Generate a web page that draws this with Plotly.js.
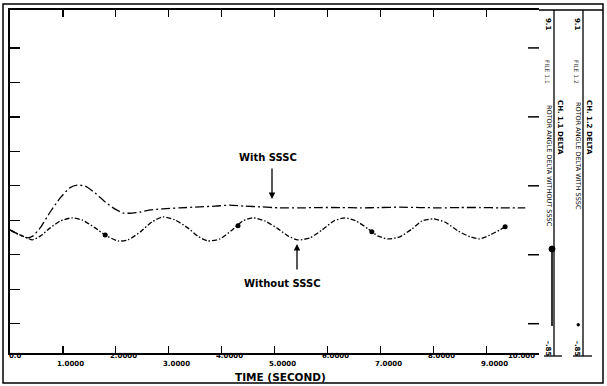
<!DOCTYPE html>
<html>
<head>
<meta charset="utf-8">
<script src="https://cdn.plot.ly/plotly-3.0.1.min.js"></script>
<style>
  html, body { margin: 0; padding: 0; background: #ffffff; }
  #chart { width: 607px; height: 386px; }
</style>
</head>
<body>
<div id="chart"></div>
<script>
// Rotor angle response after the disturbance, with and without the SSSC
const timeWith = [0.00, 0.15, 0.32, 0.43, 0.57, 0.76, 0.95, 1.13, 1.27, 1.42, 1.61, 1.80, 1.98, 2.14,
  2.31, 2.46, 2.65, 2.89, 3.21, 3.59, 3.88, 4.16, 4.44, 4.73, 5.10, 5.48, 5.86, 6.24, 6.62, 6.99,
  7.37, 7.75, 8.13, 8.51, 8.89, 9.26, 9.74];
const angleWith = [2.72, 2.60, 2.49, 2.54, 2.78, 3.24, 3.65, 3.94, 4.02, 3.99, 3.79, 3.53, 3.33, 3.21,
  3.21, 3.24, 3.30, 3.33, 3.36, 3.39, 3.41, 3.44, 3.41, 3.39, 3.36, 3.36, 3.37, 3.37, 3.36, 3.37,
  3.38, 3.37, 3.36, 3.37, 3.37, 3.36, 3.36];

const timeWithout = [0.00, 0.15, 0.32, 0.42, 0.57, 0.76, 0.95, 1.17, 1.36, 1.61, 1.80, 2.04, 2.23,
  2.46, 2.68, 2.89, 3.12, 3.36, 3.55, 3.74, 3.97, 4.20, 4.40, 4.59, 4.82, 5.07, 5.26, 5.44, 5.67,
  5.90, 6.12, 6.33, 6.54, 6.77, 6.96, 7.15, 7.37, 7.60, 7.79, 8.00, 8.22, 8.47, 8.70, 8.88, 9.07,
  9.26, 9.36];
const angleWithout = [2.72, 2.60, 2.49, 2.43, 2.54, 2.78, 2.98, 3.07, 3.01, 2.78, 2.57, 2.40, 2.43,
  2.66, 2.95, 3.10, 3.01, 2.78, 2.54, 2.40, 2.46, 2.72, 2.98, 3.07, 2.98, 2.75, 2.54, 2.43, 2.49,
  2.72, 2.98, 3.07, 2.98, 2.75, 2.54, 2.46, 2.52, 2.75, 2.98, 3.04, 2.95, 2.69, 2.52, 2.46, 2.57,
  2.72, 2.81];

// curve identification symbols placed along the "without" curve
const symbolTime = [1.80, 4.31, 6.84, 9.36];
const symbolAngle = [2.57, 2.84, 2.67, 2.81];

const xTickVals = [0, 1, 2, 3, 4, 5, 6, 7, 8, 9, 10];
const xTickLabels = ["0.0", "1.0000", "2.0000", "3.0000", "4.0000", "5.0000",
  "6.0000", "7.0000", "8.0000", "9.0000", "10.000"];
const yTickVals = [0, 1, 2, 3, 4, 5, 6, 7, 8];
const rightTickVals = [0, 2, 4, 6, 8];
const yRange = [-0.85, 9.1];

const scaleTop = "9.1";
const scaleBottom = "-.85";

// layout geometry (pixels of the 607x386 page)
const M = { l: 10, r: 68, t: 10, b: 33 };
const W = 607, H = 386;
const PW = W - M.l - M.r, PH = H - M.t - M.b;
const PX = px => (px - M.l) / PW;
const PY = py => (H - M.b - py) / PH;
const pxToTime = px => (px - M.l) / PW * 10;
const pyToAngle = py => yRange[0] + (H - M.b - py) / PH * (yRange[1] - yRange[0]);

const FONT = "DejaVu Sans";
const ink = "#000000";

const traces = [
  {
    x: timeWith, y: angleWith, type: "scatter", mode: "lines", name: "With SSSC",
    line: { color: ink, width: 1.3, dash: "9px,3px,2px,3px", shape: "spline", smoothing: 0.6 },
    hoverinfo: "skip"
  },
  {
    x: timeWithout, y: angleWithout, type: "scatter", mode: "lines", name: "Without SSSC",
    line: { color: ink, width: 1.3, dash: "5px,2px,1.5px,2px", shape: "spline", smoothing: 0.6 },
    hoverinfo: "skip"
  },
  {
    x: symbolTime, y: symbolAngle, type: "scatter", mode: "markers", name: "symbols",
    marker: { color: ink, size: 5, symbol: "circle" }, hoverinfo: "skip"
  }
];

const annotations = [];

// staggered time labels under the axis
xTickVals.forEach((v, i) => {
  const a = {
    x: v, xref: "x", y: PY(i % 2 === 0 ? 356.5 : 364), yref: "paper",
    text: xTickLabels[i], showarrow: false, yanchor: "middle",
    xanchor: "center", xshift: 8,
    font: { family: FONT, size: 7, color: ink, weight: "bold" }
  };
  if (i === 0) { a.xanchor = "left"; a.xshift = -3; }
  if (i === xTickVals.length - 1) { a.xanchor = "right"; a.xshift = -2; }
  annotations.push(a);
});

annotations.push({
  x: PX(280), xref: "paper", y: PY(376.5), yref: "paper", text: "TIME (SECOND)",
  showarrow: false, xanchor: "center", yanchor: "middle",
  font: { family: FONT, size: 10.5, color: ink, weight: "bold" }
});

// curve callouts
annotations.push({
  x: PX(268), xref: "paper", y: PY(157), yref: "paper", text: "With SSSC",
  showarrow: false, xanchor: "center", yanchor: "middle",
  font: { family: FONT, size: 10, color: ink, weight: "bold" }
});
annotations.push({
  x: pxToTime(272), xref: "x", y: pyToAngle(199), yref: "y",
  ax: 0, ay: -32, text: "", showarrow: true, arrowhead: 2, arrowsize: 1, arrowwidth: 1.3, arrowcolor: ink
});
annotations.push({
  x: PX(282), xref: "paper", y: PY(283), yref: "paper", text: "Without SSSC",
  showarrow: false, xanchor: "center", yanchor: "middle",
  font: { family: FONT, size: 10, color: ink, weight: "bold" }
});
annotations.push({
  x: pxToTime(297), xref: "x", y: pyToAngle(244), yref: "y",
  ax: 0, ay: 27, text: "", showarrow: true, arrowhead: 2, arrowsize: 1, arrowwidth: 1.3, arrowcolor: ink
});

// vertical scale columns on the right
function colText(px, py, text, size, bold, color) {
  annotations.push({
    x: PX(px), xref: "paper", y: PY(py), yref: "paper", text: text, textangle: 90,
    showarrow: false, xanchor: "center", yanchor: "middle",
    font: { family: FONT, size: size, color: color || ink, weight: bold ? "bold" : "normal" }
  });
}
colText(548, 24, scaleTop, 7, true);
colText(548, 72, "FILE 1.1", 6, false, "#444444");
colText(549, 166, "ROTOR ANGLE DELTA WITHOUT SSSC", 6.5, false);
colText(560, 127, "CH. 1.1 DELTA", 7, true);
colText(548, 348, scaleBottom, 7, true);

colText(577, 24, scaleTop, 7, true);
colText(577, 72, "FILE 1.2", 6, false, "#444444");
colText(578, 156, "ROTOR ANGLE DELTA WITH SSSC", 6.5, false);
colText(589, 127, "CH. 1.2 DELTA", 7, true);
colText(577, 348, scaleBottom, 7, true);

const line = (x0, y0, x1, y1, w) => ({
  type: "line", xref: "paper", yref: "paper",
  x0: PX(x0), y0: PY(y0), x1: PX(x1), y1: PY(y1),
  line: { color: ink, width: w }
});

const shapes = [
  // outer frame
  { type: "rect", xref: "paper", yref: "paper", x0: PX(3), x1: PX(603), y0: PY(383), y1: PY(4),
    line: { color: ink, width: 1.5 }, fillcolor: "rgba(0,0,0,0)" },
  // top rule carried over the scale columns
  line(539, 10, 603, 10, 1.5),
  // scale columns
  line(554, 10, 554, 356, 1.3),
  line(583, 10, 583, 356, 1.3),
  line(544, 356, 562, 356, 1.3),
  line(573, 356, 592, 356, 1.3),
  // legend symbol of the "without" curve
  line(552, 250, 552, 326, 1.6),
  { type: "circle", xref: "paper", yref: "paper", x0: PX(549), x1: PX(555), y0: PY(252), y1: PY(246),
    line: { color: ink, width: 1 }, fillcolor: ink },
  { type: "circle", xref: "paper", yref: "paper", x0: PX(577), x1: PX(579.5), y0: PY(326), y1: PY(323.5),
    line: { color: ink, width: 1 }, fillcolor: ink }
];

// right-hand tick marks at every second division
rightTickVals.forEach(v => {
  shapes.push({
    type: "line", xref: "paper", yref: "y", x0: PX(528), x1: 1, y0: v, y1: v,
    line: { color: ink, width: 1.5 }
  });
});

const layout = {
  width: W, height: H,
  margin: M,
  paper_bgcolor: "#ffffff", plot_bgcolor: "#ffffff",
  showlegend: false,
  xaxis: {
    range: [0, 10], tickvals: xTickVals, showticklabels: false,
    ticks: "inside", ticklen: 7, tickwidth: 1.2, tickcolor: ink,
    showline: true, linecolor: ink, linewidth: 1.6, mirror: "ticks",
    showgrid: false, zeroline: false, fixedrange: true
  },
  yaxis: {
    range: yRange, tickvals: yTickVals, showticklabels: false,
    ticks: "inside", ticklen: 10, tickwidth: 1.3, tickcolor: ink,
    showline: true, linecolor: ink, linewidth: 2.2, mirror: false,
    showgrid: false, zeroline: false, fixedrange: true
  },
  annotations: annotations,
  shapes: shapes
};

Plotly.newPlot("chart", traces, layout, { displayModeBar: false, staticPlot: true });
</script>
</body>
</html>
